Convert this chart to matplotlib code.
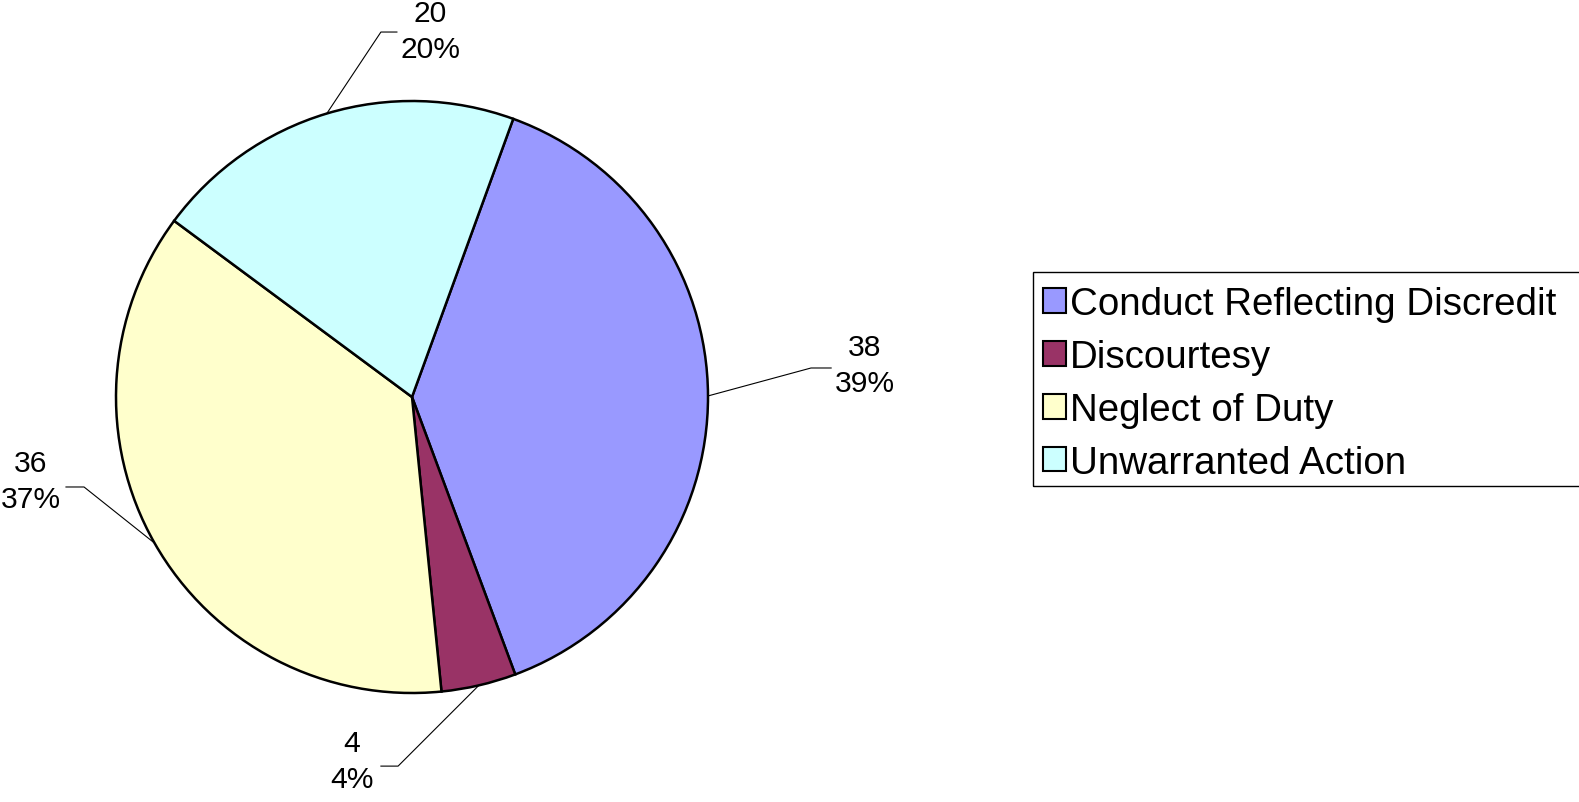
import matplotlib.pyplot as plt
from matplotlib.patches import Rectangle
import numpy as np

plt.rcParams['font.family'] = ['Liberation Sans', 'DejaVu Sans']

# Complaint categories and counts
categories = ['Conduct Reflecting Discredit', 'Discourtesy', 'Neglect of Duty', 'Unwarranted Action']
counts = [38, 4, 36, 20]
colors = ['#9999FF', '#993366', '#FFFFCC', '#CCFFFF']

# label layout per slice (data units, pie radius = 1): elbow, line end, text centre
elbows = [(1.348, 0.098), (-0.047, -1.247), (-1.108, -0.304), (-0.105, 1.233)]
line_ends = [(1.416, 0.098), (-0.105, -1.247), (-1.169, -0.304), (-0.051, 1.233)]
text_pos = [(1.530, 0.108), (-0.203, -1.23), (-1.287, -0.284), (0.061, 1.237)]

W, H = 1579, 803
fig = plt.figure(figsize=(W / 100, H / 100), dpi=100)

# pie centre at (412, 398) px, radius 296 px
cx, cy, r = 412, 398, 296
ax_w = 1000
ax = fig.add_axes([0, 0, ax_w / W, 1])
wedges, _ = ax.pie(counts, colors=colors, startangle=70, counterclock=False,
                   radius=1, wedgeprops=dict(edgecolor='black', linewidth=1.8))
ax.set_aspect('auto')
ax.set_xlim(-cx / r, (ax_w - cx) / r)
ax.set_ylim(-(H - cy) / r, cy / r)
ax.axis('off')

total = sum(counts)
for i, w in enumerate(wedges):
    mid = np.deg2rad((w.theta1 + w.theta2) / 2)
    x0, y0 = np.cos(mid), np.sin(mid)
    ex, ey = elbows[i]
    lx, ly = line_ends[i]
    ax.plot([x0, ex, lx], [y0, ey, ly], color='black', lw=0.8, clip_on=False)
    pct = round(counts[i] / total * 100)
    ax.text(text_pos[i][0], text_pos[i][1], f'{counts[i]}\n{pct}%', ha='center', va='center',
            fontsize=21.6, linespacing=1.38)

# legend
leg = fig.legend(wedges, categories, loc='upper left',
                 bbox_to_anchor=(1043 / W, 1 - 287 / H), frameon=False,
                 fontsize=27.7, borderpad=0, borderaxespad=0,
                 handlelength=0.6, handleheight=0.6,
                 handletextpad=0.1, labelspacing=0.44)
for h in leg.legend_handles:
    h.set_edgecolor('black')
    h.set_linewidth(1.5)

fig.patches.append(Rectangle((1033 / W, 1 - 487 / H), (W + 20 - 1033) / W, (487 - 273) / H,
                             transform=fig.transFigure, fill=False, edgecolor='black',
                             linewidth=1, clip_on=False))

fig.savefig('out.png', dpi=100)
